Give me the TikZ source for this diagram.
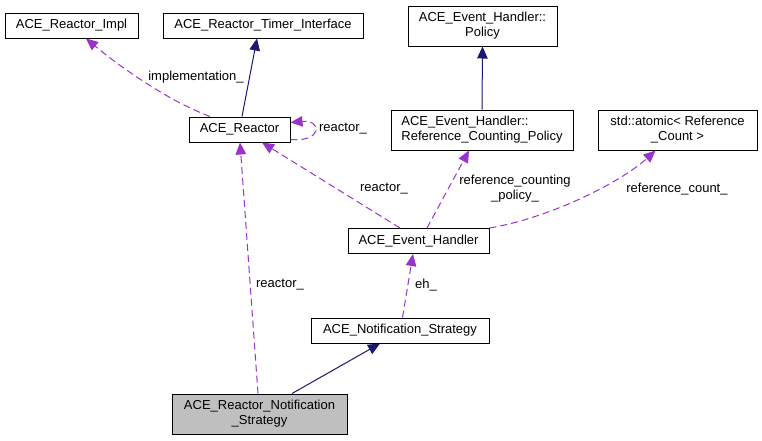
\documentclass[tikz,border=0pt]{standalone}
\usepackage{fontspec}
\setmainfont{Liberation Sans}
\usetikzlibrary{arrows.meta,positioning,calc}
\definecolor{usecol}{HTML}{9A32CD}
\definecolor{inhcol}{HTML}{191970}
\definecolor{maingrey}{HTML}{BFBFBF}

\begin{document}
\begin{tikzpicture}[x=1pt,y=-1pt,
  font=\fontsize{13}{15}\selectfont,
  cls/.style={draw=black,line width=1pt,inner sep=0pt,minimum height=25pt,align=center},
  cls2/.style={cls,minimum height=40pt},
  uses/.style={draw=usecol,line width=1pt,dash pattern=on 7pt off 4pt,
    -{Triangle[length=12pt,width=10.5pt,fill=usecol]}},
  inherits/.style={draw=inhcol,line width=1pt,
    -{Triangle[length=12pt,width=10.5pt,fill=inhcol]}},
  lbl/.style={inner sep=0pt,align=center}]

  \useasboundingbox (0,0) rectangle (762,440);

  % classes
  \node[cls,minimum width=133pt] (impl) at (71.5,25.5) {ACE\_Reactor\_Impl};
  \node[cls,minimum width=200pt] (timer) at (263,25.5) {ACE\_Reactor\_Timer\_Interface};
  \node[cls2,minimum width=149pt] (policy) at (482.5,26) {ACE\_Event\_Handler::\\Policy};
  \node[cls,minimum width=101pt] (reactor) at (239.5,129.5) {ACE\_Reactor};
  \node[cls2,minimum width=182pt,align=left] (rcp) at (482,130) {ACE\_Event\_Handler::\\Reference\_Counting\_Policy};
  \node[cls2,minimum width=159pt] (atomic) at (677.5,130) {std::atomic< Reference\\\_Count >};
  \node[cls,minimum width=141pt] (eh) at (418.5,241) {ACE\_Event\_Handler};
  \node[cls,minimum width=178pt] (ns) at (400,330.5) {ACE\_Notification\_Strategy};
  \node[cls2,minimum width=175pt,fill=maingrey] (rns) at (259.5,414) {ACE\_Reactor\_Notification\\\_Strategy};

  % inheritance
  \draw[inherits] ($(reactor.north)+(2.5,0)$) -- ($(timer.south)+(-6,0)$);
  \draw[inherits] (rcp.north) -- (policy.south);
  \draw[inherits] ($(rns.north)+(32.5,0)$) -- ($(ns.south)+(-20,0)$);

  % members
  \draw[uses] ($(reactor.north)+(-29.5,0)$) .. controls +(-45,-17) and +(30,25) .. ($(impl.south)+(14.5,0)$);
  \draw[uses] ($(reactor.east)+(0,10)$) .. controls +(32,3) and +(32,-3) .. ($(reactor.east)+(0,-7)$);
  \draw[uses] ($(eh.north)+(-18.5,0)$) -- ($(reactor.south)+(22.5,0)$);
  \draw[uses] ($(eh.north)+(8.5,0)$) -- ($(rcp.south)+(-13,0)$);
  \draw[uses] (eh.north east) .. controls +(60,-10) and +(-35,32) .. ($(atomic.south)+(-22,0)$);
  \draw[uses] ($(ns.north)+(2.5,0)$) -- ($(eh.south)+(-5.5,0)$);
  \draw[uses] ($(rns.north)+(-1.5,0)$) -- ($(reactor.south)+(0.5,0)$);

  % member labels
  \node[lbl] (limpl) at (196,77) {implementation\_};
  \node[lbl] (lself) at (343,129) {reactor\_};
  \node[lbl] (lehr) at (384,189) {reactor\_};
  \node[lbl] (lrcp) at (515,189) {reference\_counting\\\_policy\_};
  \node[lbl] (lcount) at (677,189) {reference\_count\_};
  \node[lbl] (leh) at (426,285) {eh\_};
  \node[lbl] (lrns) at (280,285) {reactor\_};
\end{tikzpicture}
\end{document}
